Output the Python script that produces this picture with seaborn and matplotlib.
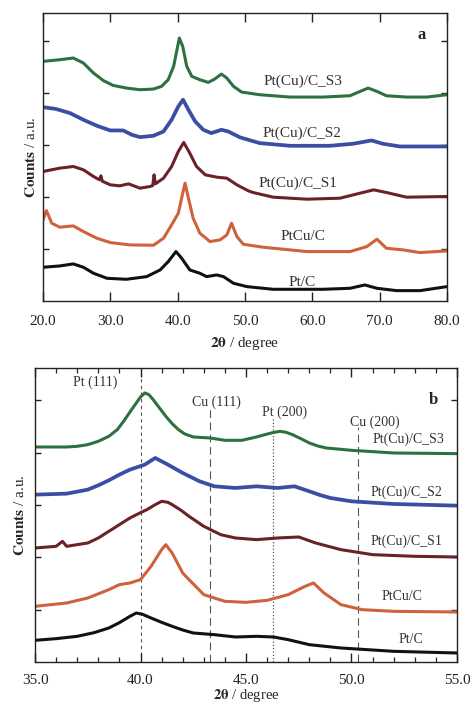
import matplotlib
matplotlib.use("Agg")
import matplotlib.pyplot as plt
import seaborn as sns
import pandas as pd
from matplotlib.ticker import MultipleLocator, FormatStrFormatter

sns.set_theme(style="ticks")
plt.rcParams["font.family"] = ["Liberation Serif", "DejaVu Serif"]
plt.rcParams["mathtext.fontset"] = "stix"

# ---- panel a: wide 2-theta scan (stacked patterns) ----
a_ptc_x = [20, 22.5, 24.5, 26, 27.5, 29.5, 32.4, 35.4, 37.4, 38.6, 39.75, 40.6, 41.8, 43.3, 44.3,
           45.8, 46.8, 48.3, 50.3, 54.2, 61.6, 65.6, 67.8, 69.6, 72.5, 76, 80]
a_ptc_y = [10.1, 10.5, 11.1, 10.1, 8.3, 6.8, 6.5, 7.3, 9.3, 11.8, 14.8, 12.8, 9.3, 8.3, 7.3,
           7.8, 7.3, 5.3, 4.3, 3.5, 3.5, 3.8, 4.8, 3.8, 3.1, 3.1, 4.3]

a_ptcu_x = [20, 20.5, 21.3, 22.5, 24.5, 26, 28, 30, 32.9, 36.4, 37.9, 39.1, 40.1, 40.75, 41.1, 41.6,
            42.3, 43.3, 44.8, 46.3, 47.3, 48.0, 48.8, 49.75, 52.7, 59.2, 65.6, 68.1, 69.6, 71.0,
            73.5, 76, 80]
a_ptcu_y = [24.3, 27.1, 23.3, 22.1, 22.5, 20.8, 18.8, 17.5, 16.8, 16.7, 18.8, 22.8, 26.3, 32.3, 35.3,
            30.8, 24.8, 20.3, 17.8, 18.3, 19.8, 23.3, 19.3, 17.0, 16.1, 14.8, 14.8, 16.3, 18.5, 15.8,
            15.3, 14.5, 15.0]

a_s1_x = [20, 22.5, 24.5, 26, 27.5, 28.4, 28.6, 28.8, 30, 31.4, 32.7, 34.4, 35.9, 36.3, 36.5, 36.7,
          37.9, 39.1, 40.1, 40.9, 41.8, 42.8, 44.1, 45.8, 47.3, 48.8, 50.5, 51.2, 54.2, 59.2, 64.1,
          67.1, 69.1, 71.0, 74.0, 80]
a_s1_y = [38.8, 39.8, 40.3, 39.3, 37.3, 36.3, 37.5, 35.9, 34.8, 34.5, 35.1, 33.8, 34.3, 34.6, 37.8,
          35.1, 36.8, 40.3, 44.8, 47.5, 44.3, 40.3, 37.8, 37.1, 36.8, 34.8, 33.0, 32.5, 31.1, 30.5,
          30.8, 32.3, 33.3, 32.5, 31.1, 31.3]

a_s2_x = [20, 22, 24, 26, 28, 30, 31.9, 33.2, 34.4, 36.4, 37.9, 39.1, 40.1, 40.8, 41.6, 42.6, 43.8,
          45.0, 46.5, 47.5, 49.3, 52.2, 56.7, 62.6, 66.0, 68.8, 70.5, 73.0, 80]
a_s2_y = [58.1, 57.5, 56.3, 54.3, 52.5, 51.1, 51.1, 49.8, 49.1, 49.5, 50.8, 54.3, 58.3, 60.3, 57.3,
          53.8, 51.3, 50.3, 51.3, 50.8, 49.0, 47.3, 46.5, 46.5, 47.1, 48.1, 47.1, 46.3, 46.3]

a_s3_x = [20, 22.5, 24.5, 26, 27.5, 29, 30.4, 32.4, 34.4, 36.4, 37.6, 38.6, 39.4, 39.9, 40.25, 40.75,
          41.35, 42.1, 43.3, 44.55, 45.5, 46.5, 47.3, 48.3, 49.5, 52.2, 56.7, 61.6, 65.6, 67.1, 68.3,
          69.6, 71.0, 74.0, 77.0, 80]
a_s3_y = [71.8, 72.3, 72.8, 71.3, 68.3, 66.0, 64.6, 63.8, 63.3, 63.5, 64.3, 66.3, 70.3, 75.3, 78.8,
          76.3, 70.3, 67.3, 66.3, 65.5, 66.5, 68.0, 66.8, 64.3, 62.6, 61.8, 61.1, 61.1, 61.5, 62.8,
          63.8, 62.8, 61.5, 61.1, 61.1, 61.8]

# ---- panel b: zoom on 35-55 degrees ----
b_s3_x = [35, 36.5, 37.0, 37.5, 38.0, 38.5, 38.9, 39.2, 39.5, 39.8, 40.0, 40.2, 40.4, 40.6, 40.9,
          41.2, 41.5, 41.8, 42.1, 42.5, 43.3, 44, 44.8, 45.5, 45.9, 46.2, 46.6, 46.9, 47.2, 47.6,
          48.0, 48.4, 48.8, 50, 52, 55]
b_s3_y = [64.5, 64.5, 64.7, 65.2, 66.2, 67.7, 69.7, 72.2, 75.0, 77.7, 79.5, 80.7, 80.2, 78.7, 76.2,
          73.7, 71.5, 69.7, 68.4, 67.5, 67.2, 66.5, 66.5, 67.5, 68.2, 68.7, 69.2, 68.9, 68.2, 67.0,
          65.7, 64.8, 64.2, 63.5, 62.7, 62.5]

b_s2_x = [35, 36.5, 37.5, 38.0, 38.5, 39.0, 39.5, 40.2, 40.7, 41.3, 42, 42.8, 43.5, 44.5, 45.5, 46.5,
          47.3, 48, 48.5, 49, 50, 52, 55]
b_s2_y = [50.2, 50.5, 51.7, 53.0, 54.5, 56.2, 57.7, 59.2, 61.2, 59.2, 56.7, 54.2, 52.7, 52.2, 52.7,
          52.2, 52.7, 51.2, 50.1, 49.2, 48.2, 47.4, 46.9]

b_s1_x = [35, 36, 36.3, 36.5, 37.5, 38.0, 38.5, 39.0, 39.5, 40.0, 40.3, 40.7, 41.0, 41.3, 41.5, 41.9,
          42.3, 43, 43.8, 44.5, 45.5, 46.5, 47.5, 48.3, 49.5, 51, 53, 55]
b_s1_y = [34.2, 34.7, 36.2, 34.7, 35.7, 37.2, 39.2, 41.2, 43.2, 44.8, 45.7, 47.2, 48.2, 47.9, 47.2,
          45.6, 43.7, 40.7, 38.2, 37.2, 36.7, 37.2, 37.5, 35.7, 33.7, 32.2, 31.7, 31.5]

b_ptcu_x = [35, 36.5, 37.5, 38.5, 39, 39.5, 40, 40.5, 41, 41.2, 41.5, 42, 42.3, 43, 44, 45, 46, 47,
            47.8, 48.2, 48.7, 49.5, 50.5, 52, 55]
b_ptcu_y = [16.7, 17.7, 19.2, 21.7, 23.2, 23.7, 24.7, 28.7, 33.7, 35.2, 32.7, 26.7, 24.7, 20.2, 18.2,
            17.9, 18.5, 20.2, 22.7, 23.7, 20.7, 17.2, 15.7, 15.2, 15.0]

b_ptc_x = [35, 36, 37, 37.8, 38.5, 39.0, 39.5, 39.8, 40.1, 40.5, 41.0, 41.5, 42.0, 42.5, 43.5, 44.5,
           45.5, 46.3, 47, 48, 49.5, 52, 55]
b_ptc_y = [6.5, 7.0, 7.7, 8.8, 10.2, 11.8, 13.7, 14.7, 14.3, 13.2, 11.9, 10.7, 9.6, 8.7, 8.2, 7.5,
           7.7, 7.5, 6.7, 5.2, 4.2, 3.2, 2.7]

names = ["Pt/C", "PtCu/C", "Pt(Cu)/C_S1", "Pt(Cu)/C_S2", "Pt(Cu)/C_S3"]
colors = ["#111111", "#cf623d", "#6a2228", "#3b4ea3", "#2d7041"]

# reflection positions
ref_names = ["Pt (111)", "Cu (111)", "Pt (200)", "Cu (200)"]
ref_pos = [40.0, 43.3, 46.3, 50.3]

fig = plt.figure(figsize=(4.70, 7.09), dpi=100)
ax_a = fig.add_axes([0.0915, 0.5755, 0.8595, 0.4062])
ax_b = fig.add_axes([0.0745, 0.0663, 0.8978, 0.4147])

series_a = [(a_ptc_x, a_ptc_y), (a_ptcu_x, a_ptcu_y), (a_s1_x, a_s1_y),
            (a_s2_x, a_s2_y), (a_s3_x, a_s3_y)]
series_b = [(b_ptc_x, b_ptc_y), (b_ptcu_x, b_ptcu_y), (b_s1_x, b_s1_y),
            (b_s2_x, b_s2_y), (b_s3_x, b_s3_y)]

for ax, series in ((ax_a, series_a), (ax_b, series_b)):
    for (x, y), name, c in zip(series, names, colors):
        df = pd.DataFrame({"two_theta": x, "counts": y})
        sns.lineplot(data=df, x="two_theta", y="counts", ax=ax, color=c,
                     lw=2.7 if name == "Pt(Cu)/C_S2" else 2.2, estimator=None, sort=False,
                     solid_joinstyle="round", solid_capstyle="round")

# curve labels
lab_a = [(58.5, 5.4), (58.6, 19.2), (57.9, 35.4), (58.5, 50.4), (58.6, 65.7)]
for (lx, ly), name in zip(lab_a, names):
    ax_a.text(lx, ly, name, fontsize=11, ha="center", va="center", color="#333333")

lab_b = [(52.8, 6.7), (52.4, 19.6), (52.6, 36.1), (52.6, 50.8), (52.7, 66.7)]
for (lx, ly), name in zip(lab_b, names):
    ax_b.text(lx, ly, name, fontsize=10, ha="center", va="center", color="#333333")

# reflection markers in panel b
styles = [((0, (3, 3)), 0.8, 1.0), ((0, (7, 4)), 0.8, 0.86), (":", 0.9, 0.83), ((0, (7, 4)), 0.8, 0.80)]
lab_pos = [(37.85, 83.8), (43.6, 77.8), (46.85, 74.8), (51.1, 71.8)]
for p, (ls, lw, top), n, (tx, ty) in zip(ref_pos, styles, ref_names, lab_pos):
    ax_b.axvline(p, ymax=top, color="#555555", ls=ls, lw=lw, zorder=0)
    ax_b.text(tx, ty, n, fontsize=10, ha="center", va="center", color="#333333")

ax_a.text(76.3, 79.8, "a", fontsize=12, fontweight="bold", ha="center", va="center")
ax_b.text(53.9, 78.7, "b", fontsize=12, fontweight="bold", ha="center", va="center")

# axes formatting
ax_a.set_xlim(20, 80)
ax_a.set_ylim(0, 86.3)
ax_a.xaxis.set_major_locator(MultipleLocator(10))
ax_a.xaxis.set_major_formatter(FormatStrFormatter("%.1f"))
ax_a.set_yticks([15.6, 31.2, 46.8, 62.4, 78.0])

ax_b.set_xlim(35, 55)
ax_b.set_ylim(0, 88.2)
ax_b.xaxis.set_major_locator(MultipleLocator(5))
ax_b.xaxis.set_minor_locator(MultipleLocator(1))
ax_b.xaxis.set_major_formatter(FormatStrFormatter("%.1f"))
ax_b.set_yticks([15.7, 31.4, 47.1, 62.8, 78.5])

for ax, ylpad, xpad, xlpad, xlfs in ((ax_a, 1.5, 10, 5, 11), (ax_b, 4.0, 9, 0, 10.5)):
    ax.set_yticklabels([])
    ax.tick_params(axis="both", which="both", direction="in", top=True, right=True,
                   labelsize=11, colors="#222222")
    ax.tick_params(axis="x", which="major", length=6.5, width=1.0, pad=xpad)
    ax.tick_params(axis="x", which="minor", length=3.5, width=0.9)
    ax.tick_params(axis="y", which="major", length=4.5, width=1.0, pad=2)
    for s in ax.spines.values():
        s.set_linewidth(1.0)
        s.set_color("#222222")
    ax.set_xlabel(r"$\mathbf{2\theta}$ / degree", fontsize=xlfs, labelpad=xlpad)
    ax.set_ylabel(r"$\mathbf{Counts}$ / a.u.", fontsize=11, labelpad=ylpad)

fig.savefig("out.png", dpi=100)
